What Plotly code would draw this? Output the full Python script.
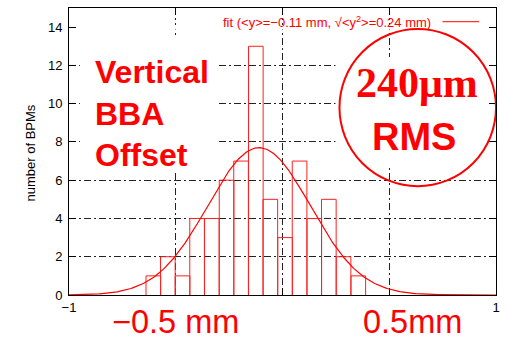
import numpy as np
import plotly.graph_objects as go

# ---- data ----
bin_centers = [-0.605, -0.537, -0.468, -0.400, -0.331, -0.262, -0.194, -0.125,
               -0.057, 0.012, 0.080, 0.149, 0.217, 0.286, 0.355]
counts = [1, 2, 1, 4, 4, 6, 7, 13, 5, 3, 7, 4, 5, 2, 1]
bin_width = 0.0686

fit_amp = 7.7
fit_mean = -0.11
fit_sigma = 0.24

x_tickvals = [-1, 1]
x_ticktext = ["\u22121", "1"]
x_gridvals = [-0.5, 0, 0.5]
y_tickvals = [0, 2, 4, 6, 8, 10, 12, 14]

legend_text = "fit (&lt;y&gt;=\u22120.11 mm, \u221a&lt;y<sup>2</sup>&gt;=0.24 mm)"

# ---- pixel helpers (plot area 69..500 x, 8..294.7 y) ----
W, H = 507, 342
L, R, T, B = 69, 500, 8, 294.7


def dx(px):
    return -1 + 2 * (px - L) / (R - L)


def dy(py):
    return 15 * (B - py) / (B - T)


def px_(px):
    return (px - L) / (R - L)


def py_(py):
    return (B - py) / (B - T)


# histogram outlines (each bin as an open rectangle, drawn on the data axes)
hx, hy = [], []
for c, n in zip(bin_centers, counts):
    lft, rgt = c - bin_width / 2, c + bin_width / 2
    hx += [lft, lft, rgt, rgt, None]
    hy += [0, n, n, 0, None]

fit_x = np.linspace(-1, 1, 401)
fit_y = fit_amp * np.exp(-(fit_x - fit_mean) ** 2 / (2 * fit_sigma ** 2))

fig = go.Figure()
fig.add_trace(go.Scatter(
    x=hx, y=hy, mode="lines", line=dict(color="#ff2020", width=1),
    connectgaps=False, showlegend=False, hoverinfo="skip"))
fig.add_trace(go.Scatter(
    x=fit_x, y=fit_y, mode="lines",
    line=dict(color="#ff0000", width=1.2),
    showlegend=False, hoverinfo="skip"))

dash = "7px,3px,2px,3px"
gcol = "#222222"
fig.update_xaxes(range=[-1, 1], tickvals=x_tickvals, ticktext=x_ticktext,
                 ticks="inside", ticklen=7, tickcolor="black", mirror="allticks",
                 showline=True, linecolor="black", linewidth=1, zeroline=False,
                 showgrid=False,
                 minor=dict(tickvals=x_gridvals, ticks="inside", ticklen=7,
                            tickcolor="black", showgrid=True, gridcolor=gcol,
                            gridwidth=1, griddash=dash),
                 tickfont=dict(family="Liberation Sans", size=13, color="black"),
                 layer="below traces")
fig.update_yaxes(range=[0, 15], tickvals=y_tickvals,
                 ticks="inside", ticklen=7, tickcolor="black", mirror="allticks",
                 showline=True, linecolor="black", linewidth=1, zeroline=False,
                 showgrid=True, gridcolor=gcol, gridwidth=1, griddash=dash,
                 tickfont=dict(family="Liberation Sans", size=13, color="black"),
                 ticklabelstandoff=3, layer="below traces")

shapes = [
    # white boxes hiding the grid behind the overlaid texts
    dict(type="rect", xref="x", yref="y", x0=dx(80), x1=dx(220), y0=dy(172), y1=dy(37),
         fillcolor="white", line=dict(width=0), layer="between"),
    dict(type="rect", xref="x", yref="y", x0=dx(338), x1=dx(494), y0=dy(165), y1=dy(57),
         fillcolor="white", line=dict(width=0), layer="between"),
    dict(type="rect", xref="x", yref="y", x0=dx(72), x1=dx(497), y0=dy(29.5), y1=dy(25),
         fillcolor="white", line=dict(width=0), layer="between"),
    # circle
    dict(type="circle", xref="x", yref="y", x0=dx(342), x1=dx(500), y0=dy(186), y1=dy(29),
         line=dict(color="#ff0000", width=2), layer="above"),
    # legend sample line
    dict(type="line", xref="x", yref="y", x0=dx(446), x1=dx(483), y0=dy(21.7), y1=dy(21.7),
         line=dict(color="#ff0000", width=1), layer="above"),
]

red = "#ff0000"
sans = "Liberation Sans"
serif = "Liberation Serif"
annotations = [
    dict(text=legend_text, x=px_(436), y=py_(22), xanchor="right", yanchor="middle",
         font=dict(family=sans, size=13, color=red)),
    dict(text="<b>Vertical<br>BBA<br>Offset</b>", x=px_(93), y=py_(113), xanchor="left",
         yanchor="middle", align="left",
         font=dict(family=sans, size=32, color=red)),
    dict(text="<b>240\u03bcm</b>", x=px_(420), y=py_(83), xanchor="center", yanchor="middle",
         font=dict(family=serif, size=42, color=red)),
    dict(text="<b>RMS</b>", x=px_(417), y=py_(137), xanchor="center", yanchor="middle",
         font=dict(family=sans, size=38, color=red)),
    dict(text="\u22120.5 mm", x=px_(177), y=py_(322), xanchor="center", yanchor="middle",
         font=dict(family=sans, size=32.5, color=red)),
    dict(text="0.5mm", x=px_(416), y=py_(322), xanchor="center", yanchor="middle",
         font=dict(family=sans, size=32.5, color=red)),
    dict(text="number of BPMs", x=px_(30), y=py_(153), textangle=-90,
         xanchor="center", yanchor="middle",
         font=dict(family=sans, size=13, color="black")),
]
for a in annotations:
    a.update(xref="paper", yref="paper", showarrow=False)

fig.update_layout(
    width=W, height=H,
    margin=dict(l=L, r=W - R, t=T, b=H - B),
    paper_bgcolor="white", plot_bgcolor="white",
    showlegend=False,
    shapes=shapes, annotations=annotations,
)

fig.write_html("out.html")
